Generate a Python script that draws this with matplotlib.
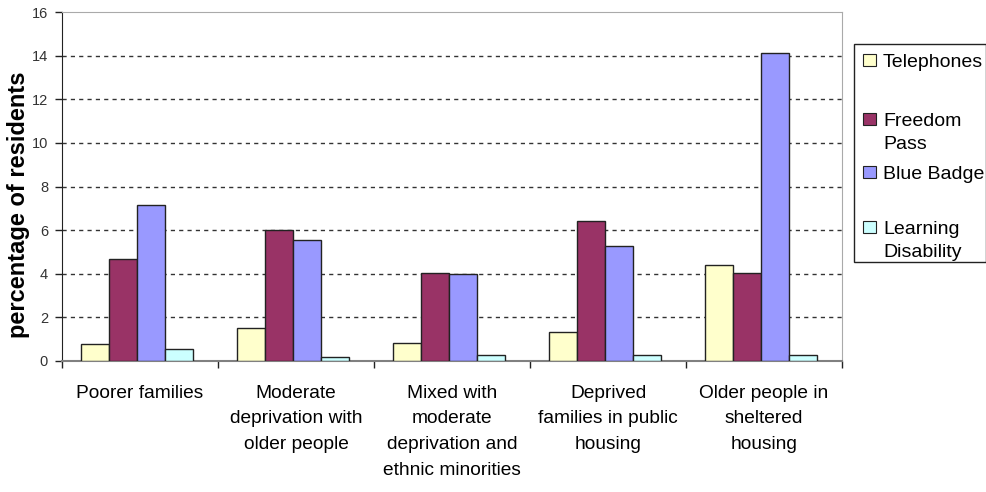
import matplotlib
matplotlib.use("Agg")
import matplotlib.pyplot as plt
import numpy as np
from matplotlib.patches import Rectangle

plt.rcParams['font.family'] = ['Liberation Sans', 'DejaVu Sans']

categories = ["Poorer families",
              "Moderate\ndeprivation with\nolder people",
              "Mixed with\nmoderate\ndeprivation and\nethnic minorities",
              "Deprived\nfamilies in public\nhousing",
              "Older people in\nsheltered\nhousing"]
series_names = ["Telephones", "Freedom Pass", "Blue Badge", "Learning Disability"]
legend_labels = ["Telephones", "Freedom\nPass", "Blue Badge", "Learning\nDisability"]
telephones = [0.77, 1.50, 0.81, 1.34, 4.39]
freedom_pass = [4.66, 6.00, 4.05, 6.42, 4.05]
blue_badge = [7.14, 5.57, 4.00, 5.27, 14.11]
learning_disability = [0.54, 0.17, 0.26, 0.26, 0.26]
yticks = [0, 2, 4, 6, 8, 10, 12, 14, 16]

colors = ["#FFFFCC", "#993366", "#9999FF", "#CCFFFF"]
all_series = [telephones, freedom_pass, blue_badge, learning_disability]

W, H = 987, 492
fig = plt.figure(figsize=(W/100, H/100), dpi=100)
ax = fig.add_axes([62/W, 1-361/H, 780/W, 349/H])

x = np.arange(len(categories))
bw = 0.18
for i, (vals, c) in enumerate(zip(all_series, colors)):
    ax.bar(x + (i - 1.5) * bw - 0.02, vals, width=bw, color=c, edgecolor="#222222",
           linewidth=1.0, zorder=3, label=series_names[i])

ax.set_xlim(-0.5, len(categories) - 0.5)
ax.set_ylim(0, 16)
ax.set_yticks(yticks)
ax.set_yticklabels([str(v) for v in yticks], fontsize=10.5, color="#333333")
for v in yticks[1:-1]:
    ax.axhline(v, color="#333333", linestyle=(0, (3, 3)), linewidth=1.0, zorder=1)

ax.set_xticks(x)
ax.set_xticklabels(categories, fontsize=13.8, linespacing=1.68, va="top")
ax.tick_params(axis="x", which="major", length=0, pad=17)
ax.set_xticks(np.arange(-0.5, len(categories) + 0.5, 1), minor=True)
ax.tick_params(axis="x", which="minor", length=5, width=1, color="#222222", direction="out")
ax.tick_params(axis="y", length=5, width=1, color="#222222", direction="out", pad=5)

ax.spines["left"].set_color("#222222")
ax.spines["bottom"].set_color("#808080")
ax.spines["bottom"].set_linewidth(1.5)
ax.spines["top"].set_color("#AAAAAA")
ax.spines["right"].set_color("#AAAAAA")

ax.set_ylabel("percentage of residents", fontsize=17, fontweight="bold")
ax.yaxis.set_label_coords(-0.041, 0.447)

# Legend (manual, Excel-style)
lx0, ly0, lx1, ly1 = 854, 44, 986, 262
fig.patches.append(Rectangle((lx0/W, 1-ly1/H), (lx1-lx0)/W, (ly1-ly0)/H,
                             transform=fig.transFigure, fill=False,
                             edgecolor="#222222", linewidth=1.0))
entry_y = [60, 119, 172, 227]   # cap-centre of first line, px from top
line_step = 23
for lab, c, yy in zip(legend_labels, colors, entry_y):
    fig.patches.append(Rectangle((863/W, 1-(yy+6)/H), 13/W, 12/H,
                                 transform=fig.transFigure, facecolor=c,
                                 edgecolor="#222222", linewidth=0.8))
    for k, line in enumerate(lab.split("\n")):
        fig.text(883/W, 1-(yy + 7 + k*line_step)/H, line, fontsize=14,
                 va="baseline", ha="left")

fig.savefig("out.png", dpi=100)
